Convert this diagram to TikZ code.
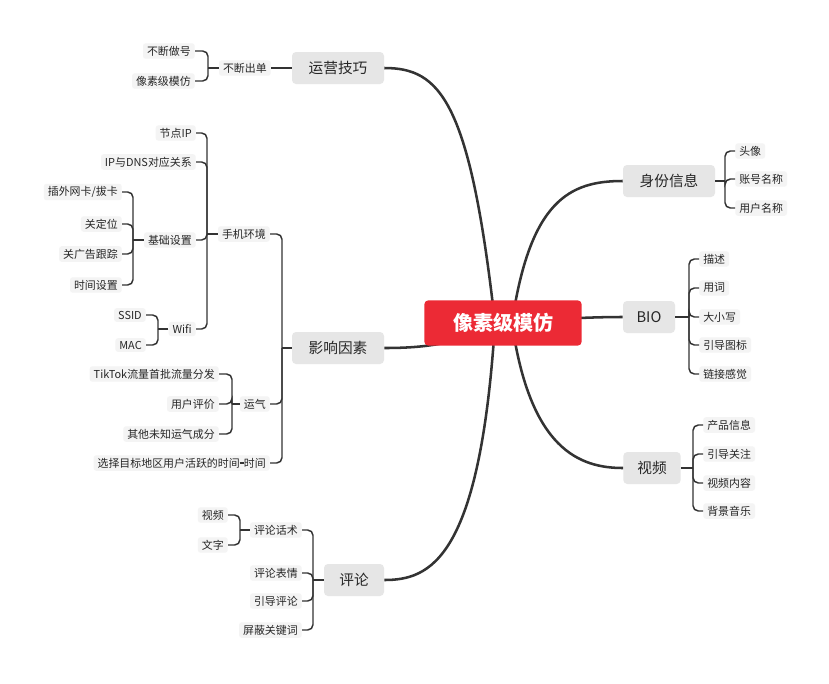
\documentclass[tikz,border=0pt]{standalone}
\usepackage{fontspec}
\setmainfont{Noto Sans CJK SC}
\begin{document}
\begin{tikzpicture}[x=0.75pt,y=-0.75pt,
  rootbox/.style={fill=red!85!black!90,fill=rootred,rounded corners=3pt,minimum width=118pt,minimum height=34pt,text=white,font=\fontsize{15}{16}\selectfont\bfseries},
  topic/.style={fill=topicgrey,rounded corners=3pt,minimum height=24pt,inner xsep=8pt,font=\fontsize{11}{12}\selectfont,text=black!85},
  leaf/.style={fill=leafgrey,rounded corners=2pt,inner xsep=3pt,inner ysep=2pt,font=\fontsize{8.2}{9}\selectfont,text=black!85},
  main/.style={draw=black!80,line width=1.9pt},
  br/.style={draw=black!80,line width=1.1pt,rounded corners=4pt}]
\definecolor{rootred}{HTML}{EC2A35}
\definecolor{topicgrey}{HTML}{E6E6E6}
\definecolor{leafgrey}{HTML}{F4F4F4}
\useasboundingbox (0,0) rectangle (829,683);
\fill[white] (0,0) rectangle (829,683);
% topics
\node[topic,minimum width=69pt] (t1) at (338,68) {运营技巧};
\node[topic,minimum width=69pt] (t2) at (338,348) {影响因素};
\node[topic,minimum width=45pt] (t3) at (354,580) {评论};
\node[topic,minimum width=69pt] (t4) at (669,181) {身份信息};
\node[topic,minimum width=39pt] (t5) at (649,317) {BIO};
\node[topic,minimum width=43pt] (t6) at (652,468) {视频};
% main curves
\draw[main] (495,323) .. controls (470,100) and (440,68) .. (t1.east);
\draw[main] (495,323) .. controls (460,345) and (420,348) .. (t2.east);
\draw[main] (495,323) .. controls (480,560) and (430,580) .. (t3.east);
\draw[main] (512,323) .. controls (530,200) and (570,181) .. (t4.west);
\draw[main] (512,323) .. controls (560,318) and (600,317) .. (t5.west);
\draw[main] (512,323) .. controls (530,450) and (580,468) .. (t6.west);
\node[rootbox] (root) at (503,323) {像素级模仿};
% right leaves
\node[leaf,anchor=west] (a1) at (735,151) {头像};
\node[leaf,anchor=west] (a2) at (735,179) {账号名称};
\node[leaf,anchor=west] (a3) at (735,208) {用户名称};
\draw[br] (t4.east) -- (725,181);
\foreach \c in {a1,a2,a3} \draw[br] (725,181) |- (\c.west);
\node[leaf,anchor=west] (b1) at (699,259) {描述};
\node[leaf,anchor=west] (b2) at (699,288) {用词};
\node[leaf,anchor=west] (b3) at (699,317) {大小写};
\node[leaf,anchor=west] (b4) at (699,345) {引导图标};
\node[leaf,anchor=west] (b5) at (699,374) {链接感觉};
\draw[br] (t5.east) -- (689,317);
\foreach \c in {b1,b2,b3,b4,b5} \draw[br] (689,317) |- (\c.west);
\node[leaf,anchor=west] (c1) at (703,425) {产品信息};
\node[leaf,anchor=west] (c2) at (703,454) {引导关注};
\node[leaf,anchor=west] (c3) at (703,483) {视频内容};
\node[leaf,anchor=west] (c4) at (703,511) {背景音乐};
\draw[br] (t6.east) -- (693,468);
\foreach \c in {c1,c2,c3,c4} \draw[br] (693,468) |- (\c.west);
% 运营技巧
\node[leaf,anchor=east] (d1) at (271,68) {不断出单};
\draw[br] (t1.west) -- (d1.east);
\node[leaf,anchor=east] (d2) at (195,51) {不断做号};
\node[leaf,anchor=east] (d3) at (195,81) {像素级模仿};
\draw[br] (d1.west) -- (208,68);
\foreach \c in {d2,d3} \draw[br] (208,68) |- (\c.east);
% 影响因素
\node[leaf,anchor=east] (e1) at (270,234) {手机环境};
\node[leaf,anchor=east] (e2) at (270,404) {运气};
\node[leaf,anchor=east] (e3) at (270,463) {时间};
\draw[br] (t2.west) -- (282,348);
\foreach \c in {e1,e2,e3} \draw[br] (282,348) |- (\c.east);
\node[leaf,anchor=east] (f1) at (196,133) {节点IP};
\node[leaf,anchor=east] (f2) at (196,162) {IP与DNS对应关系};
\node[leaf,anchor=east] (f3) at (196,240) {基础设置};
\node[leaf,anchor=east] (f4) at (196,329) {Wifi};
\draw[br] (e1.west) -- (207,234);
\foreach \c in {f1,f2,f3,f4} \draw[br] (207,234) |- (\c.east);
\node[leaf,anchor=east] (g1) at (122,192) {插外网卡/拔卡};
\node[leaf,anchor=east] (g2) at (122,224) {关定位};
\node[leaf,anchor=east] (g3) at (122,254) {关广告跟踪};
\node[leaf,anchor=east] (g4) at (122,285) {时间设置};
\draw[br] (f3.west) -- (133,240);
\foreach \c in {g1,g2,g3,g4} \draw[br] (133,240) |- (\c.east);
\node[leaf,anchor=east] (h1) at (146,315) {SSID};
\node[leaf,anchor=east] (h2) at (146,345) {MAC};
\draw[br] (f4.west) -- (158,329);
\foreach \c in {h1,h2} \draw[br] (158,329) |- (\c.east);
\node[leaf,anchor=east] (i1) at (219,374) {TikTok流量首批流量分发};
\node[leaf,anchor=east] (i2) at (219,404) {用户评价};
\node[leaf,anchor=east] (i3) at (219,434) {其他未知运气成分};
\draw[br] (e2.west) -- (232,404);
\foreach \c in {i1,i2,i3} \draw[br] (232,404) |- (\c.east);
\node[leaf,anchor=east] (j1) at (244,463) {选择目标地区用户活跃的时间};
\draw[br] (e3.west) -- (j1.east);
% 评论
\node[leaf,anchor=east] (k1) at (302,530) {评论话术};
\node[leaf,anchor=east] (k2) at (302,573) {评论表情};
\node[leaf,anchor=east] (k3) at (302,601) {引导评论};
\node[leaf,anchor=east] (k4) at (302,630) {屏蔽关键词};
\draw[br] (t3.west) -- (313,580);
\foreach \c in {k1,k2,k3,k4} \draw[br] (313,580) |- (\c.east);
\node[leaf,anchor=east] (l1) at (228,515) {视频};
\node[leaf,anchor=east] (l2) at (228,545) {文字};
\draw[br] (k1.west) -- (240,530);
\foreach \c in {l1,l2} \draw[br] (240,530) |- (\c.east);
\end{tikzpicture}
\end{document}
